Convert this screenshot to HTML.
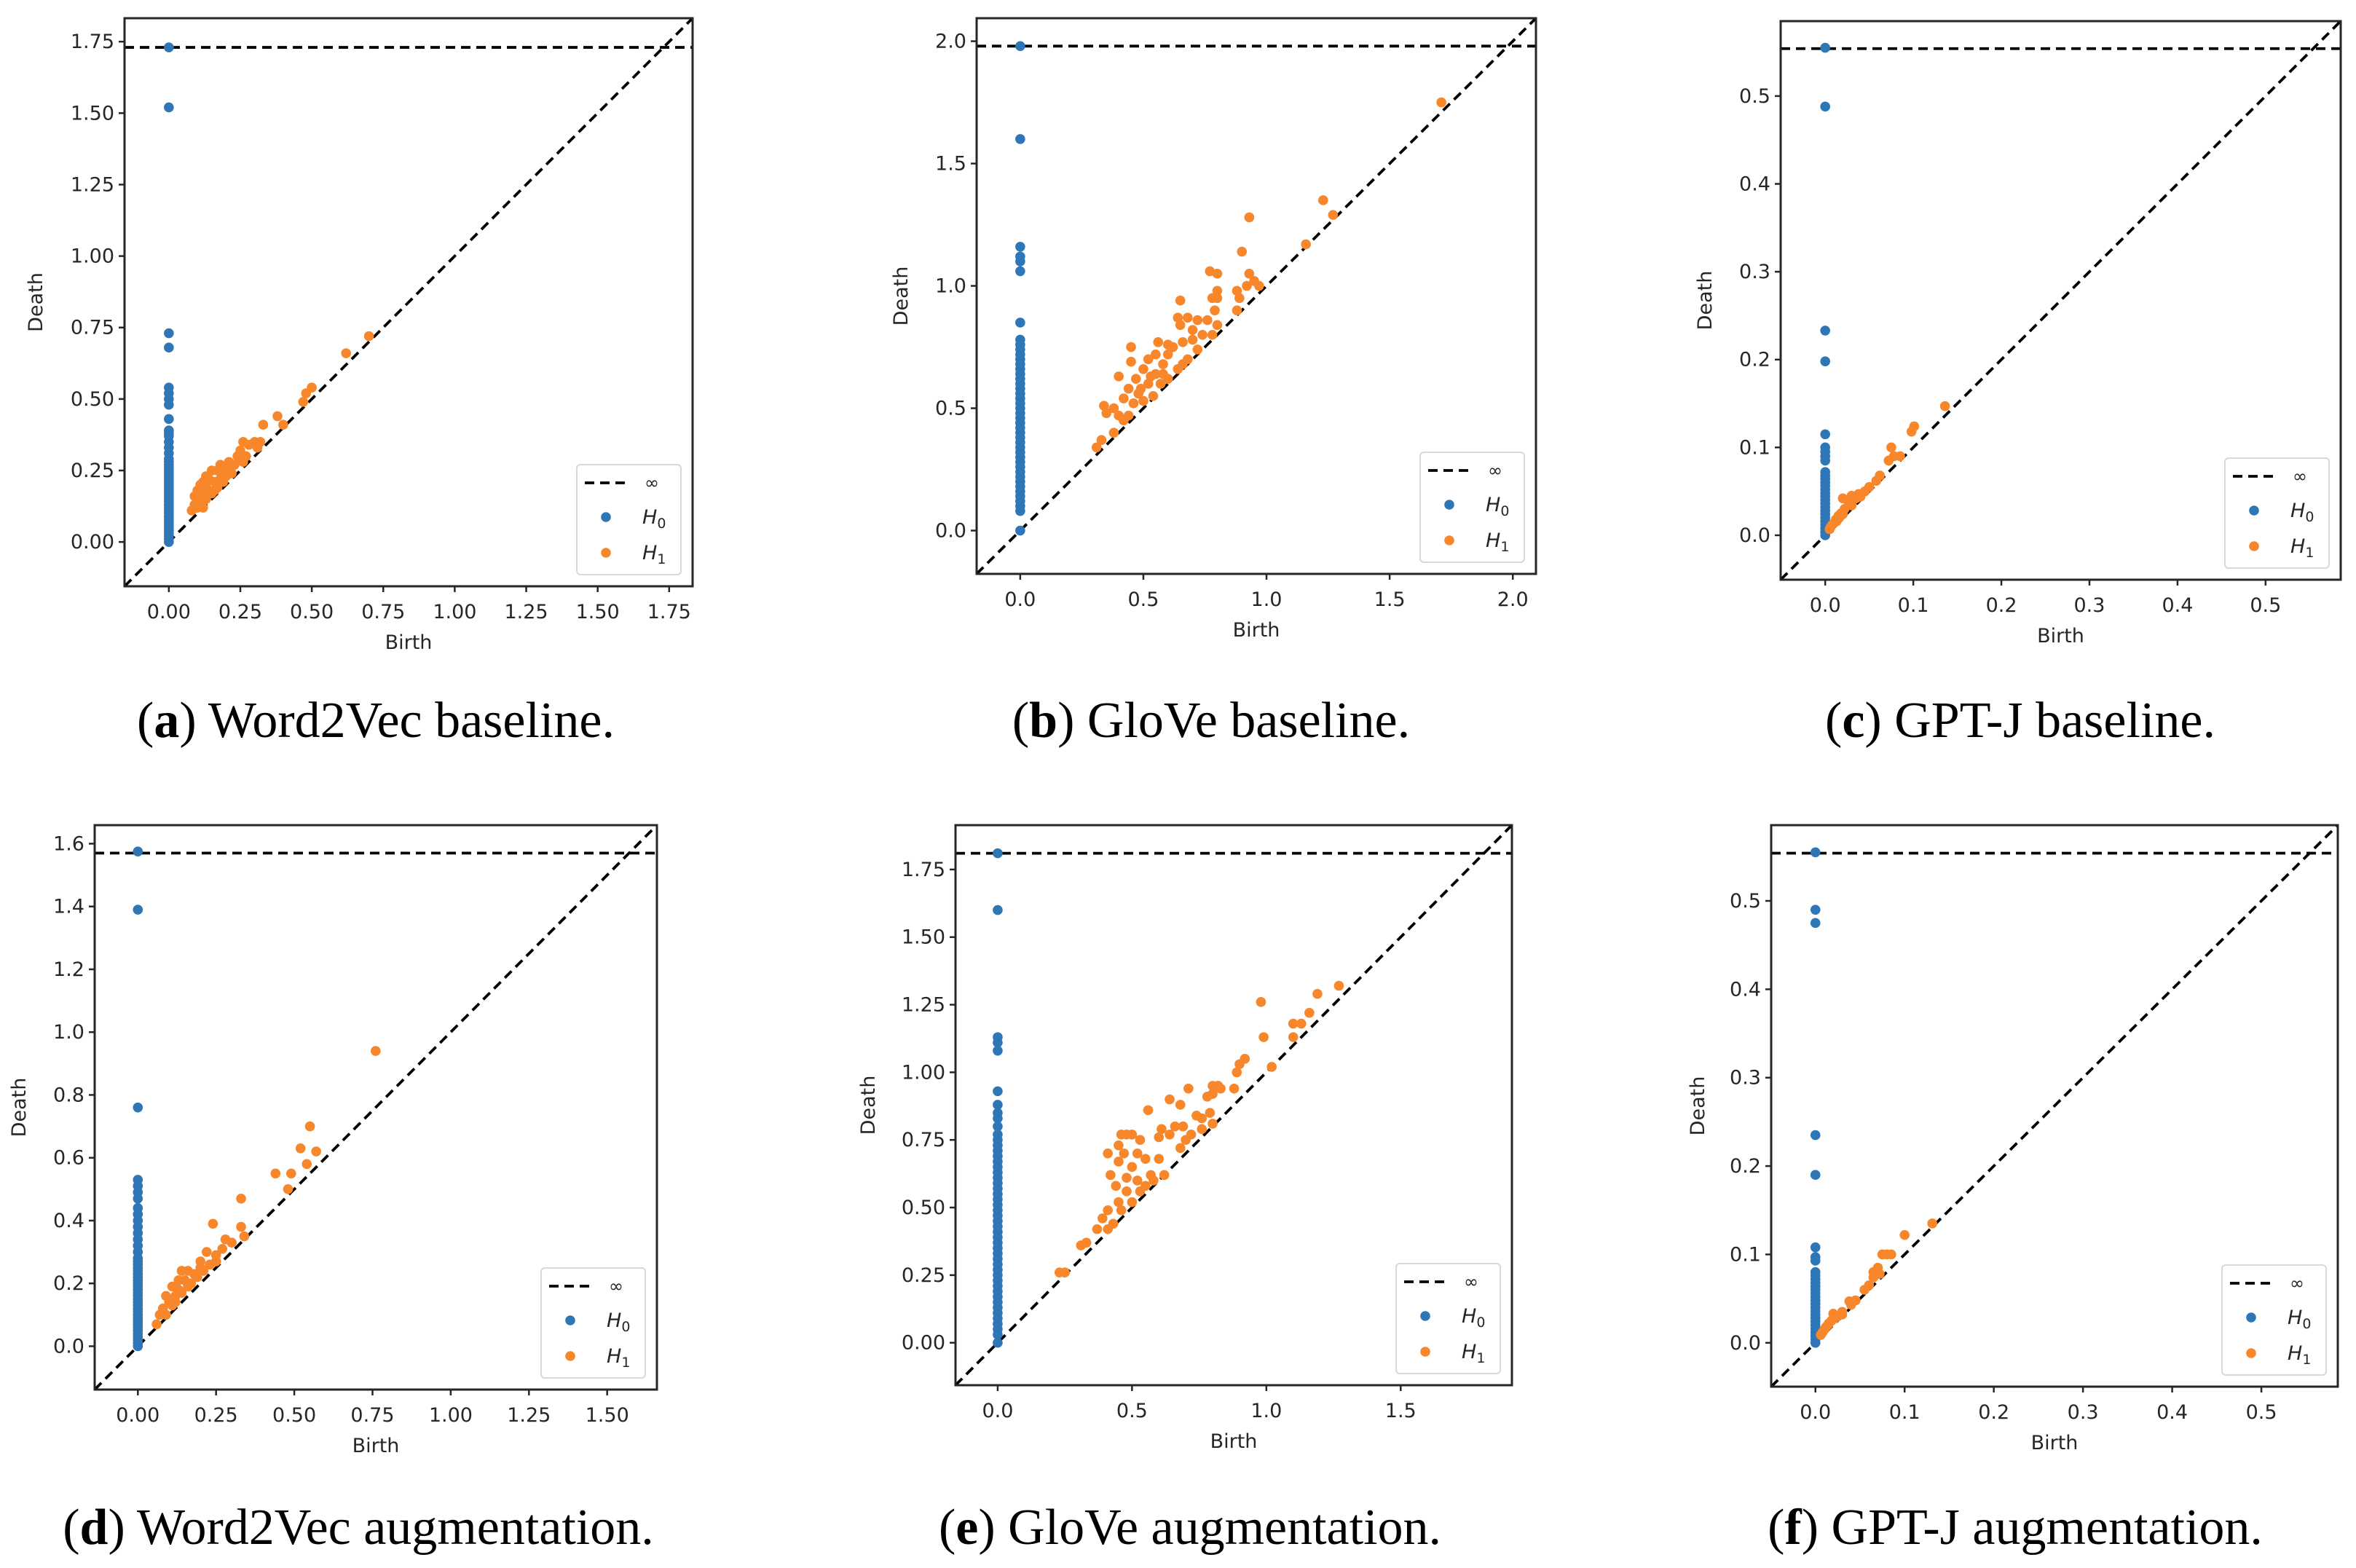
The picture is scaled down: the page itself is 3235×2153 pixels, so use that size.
<!DOCTYPE html>
<html><head><meta charset="utf-8"><style>
html,body{margin:0;padding:0;background:#fff;}
svg{display:block;}
</style></head><body>
<svg id="fig" width="3235" height="2153" viewBox="0 0 3235 2153" xmlns="http://www.w3.org/2000/svg"></svg>
<script>
// ---- Panel (a) Word2Vec baseline ----
const aH0 = [1.73,1.52,0.73,0.68,0.54,0.52,0.50,0.48,0.43,0.39,0.38,0.37,0.35,0.33,0.31,0.29,0.28,0.27,0.26,0.25,0.24,0.23,0.22,0.21,0.20,0.19,0.18,0.17,0.16,0.15,0.14,0.13,0.12,0.11,0.10,0.09,0.08,0.07,0.06,0.05,0.04,0.03,0.02,0.01,0.0];
const aH1b = [0.70,0.62,0.50,0.48,0.47,0.40,0.38,0.33,0.32,0.30,0.31,0.26,0.25,0.24,0.26,0.23,0.21,0.20,0.19,0.17,0.15,0.18,0.16,0.14,0.13,0.12,0.11,0.10,0.12,0.14,0.10,0.11,0.09,0.08,0.10,0.13,0.15,0.17,0.19,0.22,0.27,0.28,0.12,0.16,0.20,0.09,0.13,0.18];
const aH1d = [0.72,0.66,0.54,0.52,0.49,0.41,0.44,0.41,0.35,0.35,0.33,0.35,0.32,0.30,0.28,0.27,0.28,0.26,0.24,0.25,0.25,0.22,0.21,0.22,0.20,0.21,0.20,0.18,0.17,0.18,0.15,0.14,0.13,0.11,0.12,0.15,0.17,0.19,0.21,0.24,0.30,0.34,0.12,0.18,0.23,0.16,0.23,0.27];
const aInf = 1.73;
const aXTicks = [0,0.25,0.5,0.75,1.0,1.25,1.5,1.75];
const aYTicks = [0,0.25,0.5,0.75,1.0,1.25,1.5,1.75];

// ---- Panel (b) GloVe baseline ----
const bH0 = [1.98,1.60,1.16,1.12,1.10,1.06,0.85,0.78,0.76,0.74,0.72,0.70,0.68,0.66,0.64,0.62,0.60,0.58,0.56,0.54,0.52,0.50,0.48,0.46,0.44,0.42,0.40,0.38,0.36,0.34,0.32,0.30,0.28,0.26,0.24,0.22,0.20,0.18,0.16,0.14,0.12,0.10,0.08,0.0];
const bH1b = [1.71,1.23,1.27,1.16,0.93,0.90,0.93,0.95,0.97,0.92,0.88,0.89,0.77,0.80,0.80,0.80,0.78,0.65,0.79,0.88,0.64,0.68,0.72,0.76,0.80,0.65,0.70,0.74,0.78,0.70,0.66,0.56,0.60,0.45,0.62,0.72,0.55,0.60,0.52,0.58,0.45,0.50,0.55,0.64,0.68,0.40,0.47,0.52,0.57,0.44,0.48,0.42,0.50,0.54,0.46,0.34,0.38,0.35,0.40,0.44,0.42,0.38,0.33,0.31,0.60,0.66,0.49,0.53,0.58];
const bH1d = [1.75,1.35,1.29,1.17,1.28,1.14,1.05,1.02,1.00,1.00,0.98,0.95,1.06,1.05,0.98,0.95,0.95,0.94,0.90,0.90,0.87,0.87,0.86,0.86,0.84,0.84,0.82,0.80,0.80,0.78,0.77,0.77,0.76,0.75,0.75,0.74,0.72,0.72,0.70,0.68,0.69,0.66,0.64,0.66,0.70,0.63,0.62,0.60,0.60,0.58,0.56,0.54,0.53,0.55,0.52,0.51,0.50,0.48,0.47,0.47,0.45,0.40,0.37,0.34,0.62,0.68,0.58,0.63,0.64];
const bInf = 1.98;
const bXTicks = [0,0.5,1.0,1.5,2.0];
const bYTicks = [0,0.5,1.0,1.5,2.0];

// ---- Panel (c) GPT-J baseline ----
const cH0 = [0.555,0.488,0.233,0.198,0.115,0.100,0.095,0.090,0.085,0.072,0.068,0.064,0.060,0.056,0.052,0.048,0.044,0.040,0.036,0.032,0.028,0.024,0.020,0.016,0.012,0.008,0.004,0.0];
const cH1b = [0.136,0.101,0.098,0.075,0.078,0.085,0.072,0.062,0.058,0.050,0.045,0.038,0.030,0.020,0.025,0.035,0.028,0.022,0.018,0.015,0.012,0.010,0.008,0.006,0.005,0.016,0.020,0.030,0.040,0.013];
const cH1d = [0.147,0.124,0.118,0.100,0.090,0.090,0.085,0.068,0.062,0.055,0.050,0.047,0.045,0.042,0.040,0.042,0.035,0.030,0.025,0.022,0.018,0.014,0.012,0.009,0.007,0.020,0.024,0.034,0.044,0.016];
const cInf = 0.554;
const cXTicks = [0,0.1,0.2,0.3,0.4,0.5];
const cYTicks = [0,0.1,0.2,0.3,0.4,0.5];

// ---- Panel (d) Word2Vec augmentation ----
const dH0 = [1.575,1.39,0.76,0.53,0.51,0.49,0.47,0.44,0.42,0.40,0.38,0.36,0.34,0.32,0.30,0.28,0.27,0.26,0.25,0.24,0.23,0.22,0.21,0.20,0.19,0.18,0.17,0.16,0.15,0.14,0.13,0.12,0.11,0.10,0.09,0.08,0.07,0.06,0.05,0.04,0.03,0.02,0.01,0.0];
const dH1b = [0.76,0.55,0.52,0.57,0.54,0.44,0.49,0.48,0.33,0.24,0.33,0.28,0.30,0.34,0.22,0.25,0.27,0.20,0.23,0.14,0.16,0.18,0.20,0.13,0.15,0.11,0.13,0.09,0.12,0.10,0.08,0.07,0.06,0.09,0.11,0.14,0.17,0.19,0.21,0.25,0.12,0.16];
const dH1d = [0.94,0.70,0.63,0.62,0.58,0.55,0.55,0.50,0.47,0.39,0.38,0.34,0.33,0.35,0.30,0.29,0.31,0.27,0.26,0.24,0.24,0.23,0.25,0.21,0.21,0.19,0.18,0.16,0.16,0.14,0.12,0.10,0.07,0.10,0.13,0.17,0.20,0.22,0.24,0.27,0.14,0.19];
const dInf = 1.57;
const dXTicks = [0,0.25,0.5,0.75,1.0,1.25,1.5];
const dYTicks = [0,0.2,0.4,0.6,0.8,1.0,1.2,1.4,1.6];

// ---- Panel (e) GloVe augmentation ----
const eH0 = [1.81,1.60,1.13,1.11,1.08,0.93,0.88,0.85,0.83,0.80,0.77,0.75,0.73,0.71,0.69,0.67,0.65,0.63,0.61,0.59,0.57,0.55,0.53,0.51,0.49,0.47,0.45,0.43,0.41,0.39,0.37,0.35,0.33,0.31,0.29,0.27,0.25,0.23,0.21,0.19,0.17,0.15,0.13,0.11,0.09,0.07,0.05,0.03,0.0];
const eH1b = [1.27,1.19,1.16,1.13,1.10,1.10,0.98,0.99,1.02,0.92,0.90,0.89,0.88,0.82,0.83,0.80,0.80,0.78,0.71,0.64,0.68,0.56,0.79,0.74,0.80,0.76,0.69,0.66,0.61,0.60,0.64,0.70,0.68,0.46,0.48,0.50,0.45,0.53,0.41,0.47,0.52,0.55,0.60,0.45,0.50,0.42,0.48,0.52,0.57,0.62,0.44,0.48,0.53,0.58,0.45,0.50,0.41,0.46,0.39,0.43,0.37,0.41,0.31,0.33,0.23,0.25,0.55,0.72,0.76];
const eH1d = [1.32,1.29,1.22,1.18,1.18,1.13,1.26,1.13,1.02,1.05,1.03,1.00,0.94,0.95,0.94,0.95,0.92,0.91,0.94,0.90,0.88,0.86,0.85,0.84,0.81,0.79,0.80,0.80,0.79,0.76,0.77,0.75,0.72,0.77,0.77,0.77,0.73,0.75,0.70,0.70,0.70,0.68,0.68,0.67,0.65,0.62,0.61,0.60,0.62,0.62,0.58,0.56,0.56,0.60,0.52,0.52,0.49,0.49,0.46,0.44,0.42,0.42,0.36,0.37,0.26,0.26,0.58,0.77,0.83];
const eInf = 1.81;
const eXTicks = [0,0.5,1.0,1.5];
const eYTicks = [0,0.25,0.5,0.75,1.0,1.25,1.5,1.75];

// ---- Panel (f) GPT-J augmentation ----
const fH0 = [0.555,0.49,0.475,0.235,0.19,0.108,0.097,0.093,0.080,0.076,0.072,0.068,0.064,0.060,0.056,0.052,0.048,0.044,0.040,0.036,0.032,0.028,0.024,0.020,0.016,0.012,0.008,0.004,0.0];
const fH1b = [0.131,0.100,0.075,0.080,0.085,0.070,0.065,0.072,0.065,0.060,0.055,0.038,0.040,0.030,0.020,0.025,0.018,0.015,0.012,0.010,0.008,0.006,0.014,0.022,0.030,0.045];
const fH1d = [0.135,0.122,0.100,0.100,0.100,0.085,0.080,0.078,0.074,0.065,0.060,0.047,0.043,0.035,0.033,0.030,0.025,0.022,0.018,0.015,0.012,0.009,0.020,0.028,0.032,0.048];
const fInf = 0.554;
const fXTicks = [0,0.1,0.2,0.3,0.4,0.5];
const fYTicks = [0,0.1,0.2,0.3,0.4,0.5];

const NS = 'http://www.w3.org/2000/svg';
const svg = document.getElementById('fig');
function mk(tag, attrs, parent){ const e=document.createElementNS(NS,tag); for(const k in attrs) e.setAttribute(k,attrs[k]); (parent||svg).appendChild(e); return e; }

const BLUE='#2f76b6', ORANGE='#f7872a', INK='#262626';
const R_DOT = 6.8;

function panel(id, box, lo, hi, h0, h1b, h1d, inf, xt, yt, xdp, ydp, deathOff, caption, capLetter, capX, capY){
  const g = mk('g',{});
  
  
  const [L,T,R,B] = box;
  const sx = v => L + (v-lo)/(hi-lo)*(R-L);
  const sy = v => B - (v-lo)/(hi-lo)*(B-T);
  const cp = mk('clipPath',{id:'clip'+id}, g);
  mk('rect',{x:L,y:T,width:R-L,height:B-T}, cp);
  const diag = mk('line',{x1:sx(lo),y1:sy(lo),x2:sx(hi),y2:sy(hi),stroke:'#000','stroke-width':3.8,'stroke-dasharray':'13 8','clip-path':'url(#clip'+id+')'}, g);
  
  
  const infl = mk('line',{x1:L,y1:sy(inf),x2:R,y2:sy(inf),stroke:'#000','stroke-width':3.8,'stroke-dasharray':'13 8'}, g);
  
  
  h0.forEach(d=>{
    const c = mk('circle',{cx:sx(0),cy:sy(d),r:R_DOT,fill:BLUE}, g);
    
    
  });
  h1b.forEach((b,i)=>{
    const c = mk('circle',{cx:sx(b),cy:sy(h1d[i]),r:R_DOT,fill:ORANGE}, g);
    
    
  });
  const fr = mk('rect',{x:L,y:T,width:R-L,height:B-T,fill:'none',stroke:INK,'stroke-width':3}, g);
  
  
  xt.forEach(v=>{
    const x = sx(v);
    mk('line',{x1:x,y1:B,x2:x,y2:B+8,stroke:INK,'stroke-width':2.5}, g);
    const t = mk('text',{x:x,y:B+44,'text-anchor':'middle','font-family':'DejaVu Sans, Liberation Sans, sans-serif','font-size':27,fill:INK}, g);
    t.textContent = v.toFixed(xdp);
    
    
  });
  yt.forEach(v=>{
    const y = sy(v);
    mk('line',{x1:L-8,y1:y,x2:L,y2:y,stroke:INK,'stroke-width':2.5}, g);
    const t = mk('text',{x:L-14,y:y+9,'text-anchor':'end','font-family':'DejaVu Sans, Liberation Sans, sans-serif','font-size':27,fill:INK}, g);
    t.textContent = v.toFixed(ydp);
    
    
  });
  const xl = mk('text',{x:(L+R)/2,y:B+86,'text-anchor':'middle','font-family':'DejaVu Sans, Liberation Sans, sans-serif','font-size':27,fill:INK}, g);
  xl.textContent='Birth';
  
  
  const yx = L-deathOff, yy=(T+B)/2;
  const yl = mk('text',{x:yx,y:yy,'text-anchor':'middle','font-family':'DejaVu Sans, Liberation Sans, sans-serif','font-size':27,fill:INK,transform:'rotate(-90 '+yx+' '+yy+')'}, g);
  yl.textContent='Death';
  
  
  const lw=143, lh=151, lx=R-16-lw, ly=B-16-lh;
  const lg = mk('g',{}, g);
  
  
  mk('rect',{x:lx,y:ly,width:lw,height:lh,rx:5,fill:'#fff',stroke:'#d8d8d8','stroke-width':2}, lg);
  mk('line',{x1:lx+11,y1:ly+25,x2:lx+70,y2:ly+25,stroke:'#000','stroke-width':3.8,'stroke-dasharray':'13 8'}, lg);
  const inft = mk('text',{x:lx+103,y:ly+33,'text-anchor':'middle','font-family':'DejaVu Sans, sans-serif','font-size':24,fill:INK}, lg);
  inft.textContent='∞';
  
  
  mk('circle',{cx:lx+40,cy:ly+72,r:R_DOT,fill:BLUE}, lg);
  const h0t = mk('text',{x:lx+90,y:ly+81,'font-family':'DejaVu Sans, sans-serif','font-size':27,'font-style':'italic',fill:INK}, lg);
  h0t.innerHTML='H<tspan font-size="19" font-style="normal" dy="6">0</tspan>';
  
  
  mk('circle',{cx:lx+40,cy:ly+121,r:R_DOT,fill:ORANGE}, lg);
  const h1t = mk('text',{x:lx+90,y:ly+130,'font-family':'DejaVu Sans, sans-serif','font-size':27,'font-style':'italic',fill:INK}, lg);
  h1t.innerHTML='H<tspan font-size="19" font-style="normal" dy="6">1</tspan>';
  
  
  const ct = mk('text',{x:capX,y:capY,'text-anchor':'middle','font-family':'Liberation Serif, serif','font-size':70,fill:'#000'}, svg);
  ct.innerHTML='(<tspan font-weight="bold">'+capLetter+'</tspan>) '+caption;
  
  
}

panel('a',[171,25,951,805],-0.155,1.832,aH0,aH1b,aH1d,aInf,aXTicks,aYTicks,2,2,113,'Word2Vec baseline.','a',516,1012);
panel('b',[1341,25,2109,788],-0.177,2.094,bH0,bH1b,bH1d,bInf,bXTicks,bYTicks,1,1,95,'GloVe baseline.','b',1663,1012);
panel('c',[2445,29,3214,796],-0.0506,0.5853,cH0,cH1b,cH1d,cInf,cXTicks,cYTicks,1,1,95,'GPT-J baseline.','c',2774,1012);
panel('d',[130,1133,902,1908],-0.138,1.659,dH0,dH1b,dH1d,dInf,dXTicks,dYTicks,2,1,95,'Word2Vec augmentation.','d',492,2120);
panel('e',[1312,1133,2076,1902],-0.157,1.914,eH0,eH1b,eH1d,eInf,eXTicks,eYTicks,1,2,111,'GloVe augmentation.','e',1634,2120);
panel('f',[2432,1133,3210,1904],-0.0496,0.5857,fH0,fH1b,fH1d,fInf,fXTicks,fYTicks,1,1,92,'GPT-J augmentation.','f',2767,2120);
</script>
</body></html>
